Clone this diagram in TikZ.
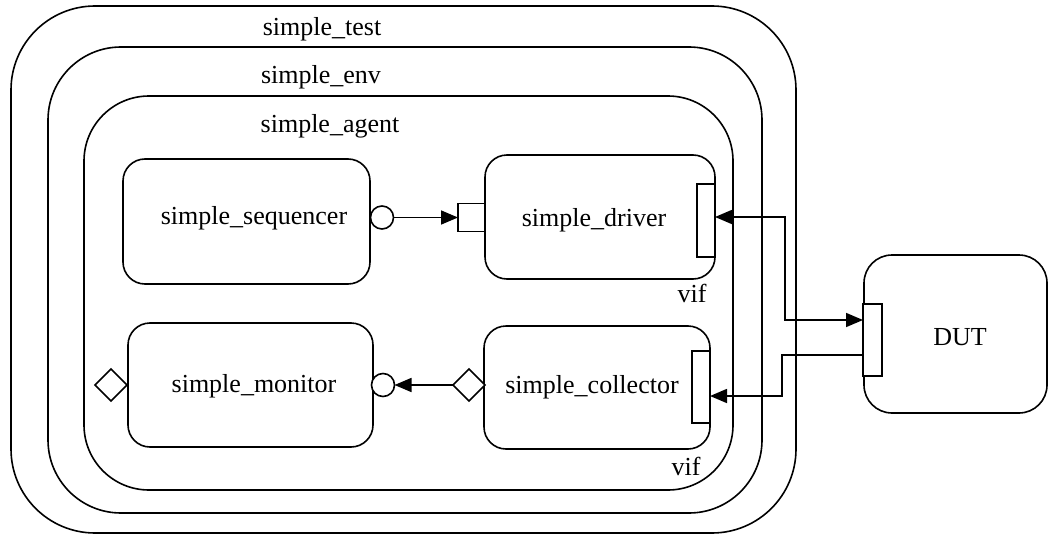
\documentclass[tikz,border=0pt]{standalone}
\usepackage{fontspec}
\setmainfont{Liberation Serif}
\usetikzlibrary{shapes.geometric,arrows.meta}
\begin{document}
\begin{tikzpicture}[x=1pt,y=-1pt,
  every node/.style={font=\fontsize{26}{30}\selectfont},
  lw/.style={line width=1.6pt},
  container/.style={lw,draw,inner sep=0pt,outer sep=0pt},
  comp/.style={lw,draw,rounded corners=22pt,inner sep=0pt,outer sep=0pt},
  portbox/.style={lw,draw,fill=white,inner sep=0pt,outer sep=0pt},
  portcirc/.style={lw,draw,circle,fill=white,inner sep=0pt,outer sep=0pt,minimum size=23pt},
  portdia/.style={lw,draw,diamond,shape aspect=1,fill=white,inner sep=0pt,outer sep=0pt,minimum size=32pt},
  tip/.tip={Triangle[length=17pt,width=14pt]},
  arr/.style={lw,-tip},
  biarr/.style={lw,tip-tip},
  lbl/.style={inner sep=0pt}
]
\useasboundingbox (0,0) rectangle (1049,535);
% containers
\node[container,rounded corners=84pt,minimum width=785pt,minimum height=527pt] (test) at (403.5,269.5) {};
\node[container,rounded corners=73pt,minimum width=714pt,minimum height=466pt] (env) at (405,280) {};
\node[container,rounded corners=65pt,minimum width=649pt,minimum height=394pt] (agent) at (408.5,293) {};
\node[lbl] (testlbl) at (322,29) {simple\_test};
\node[lbl] (envlbl) at (321,77) {simple\_env};
\node[lbl] (agentlbl) at (330,126) {simple\_agent};
% components
\node[comp,minimum width=247pt,minimum height=125pt] (seq) at (246.5,221.5) {};
\node[lbl] (seqt) at (254,218) {simple\_sequencer};
\node[comp,minimum width=230pt,minimum height=124pt] (drv) at (600,217) {};
\node[lbl] (drvt) at (594,220) {simple\_driver};
\node[comp,minimum width=245pt,minimum height=124pt] (mon) at (250.5,385) {};
\node[lbl] (mont) at (254,386) {simple\_monitor};
\node[comp,minimum width=226pt,minimum height=123pt] (col) at (597,387.5) {};
\node[lbl] (colt) at (592,387) {simple\_collector};
\node[comp,rounded corners=28pt,minimum width=183pt,minimum height=158pt] (dut) at (955.5,334) {};
\node[lbl] (dutt) at (960,337) {DUT};
% ports
\node[portbox,minimum width=18pt,minimum height=73pt] (dport) at (706,220.5) {};
\node[portbox,minimum width=27pt,minimum height=28pt] (dsq) at (471.5,217.5) {};
\node[portcirc] (seqc) at (382,217.5) {};
\node[portbox,minimum width=18pt,minimum height=72pt] (cport) at (701,387) {};
\node[portdia] (cdia) at (469,385) {};
\node[portcirc] (monc) at (383,385) {};
\node[portdia] (mdia) at (111,385) {};
\node[portbox,minimum width=19pt,minimum height=72pt] (dutp) at (872.5,340) {};
\node[lbl] (vif1) at (692,293) {vif};
\node[lbl] (vif2) at (686,466) {vif};
% connectors
\draw[arr] (seqc.east) -- (dsq.west);
\draw[arr] (cdia.west) -- (monc.east);
\coordinate (j1) at (785,217);
\coordinate (j2) at (785,320);
\coordinate (j3) at (782,355);
\coordinate (j4) at (782,396);
\draw[biarr] (dport.east |- j1) -- (j1) -- (j2) -- (dutp.west |- j2);
\draw[arr] (dutp.west |- j3) -- (j3) -- (j4) -- (cport.east |- j4);
\end{tikzpicture}
\end{document}
